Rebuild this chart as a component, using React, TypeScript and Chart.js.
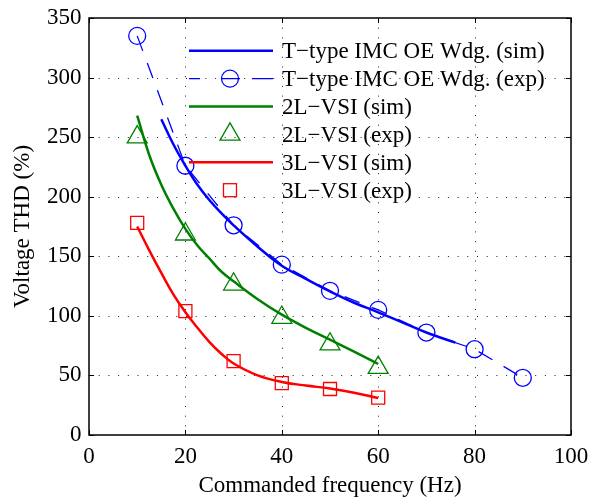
import React, { useEffect, useRef } from 'react';
import { Chart, registerables } from 'chart.js';

Chart.register(...registerables);

const FONT = '"Liberation Serif", "Times New Roman", serif';
const FONT_SIZE = 23;

// Axis ranges / ticks
const xMin = 0, xMax = 100, xStep = 20;
const yMin = 0, yMax = 350, yStep = 50;

// T-type IMC OE Wdg. (sim)
const tTypeSimFreq = [15, 17.5, 20, 22.5, 25, 27.5, 30, 35, 40, 45, 50, 55, 60, 65, 70, 76];
const tTypeSim = [265, 244, 226, 210, 197, 186, 176, 158, 142, 131, 120.5, 111, 103, 94.5, 86, 77.5];

// T-type IMC OE Wdg. (exp)
const tTypeExpFreq = [10, 20, 30, 40, 50, 60, 70, 80, 90];
const tTypeExp = [335, 226, 176, 143, 121, 105, 86, 72, 48];

// 2L-VSI (sim)
const vsi2SimFreq = [10, 12.5, 15, 17.5, 20, 22.5, 25, 27.5, 30, 35, 40, 45, 50, 55, 60];
const vsi2Sim = [268, 235, 210, 190, 173, 159, 148, 137, 129, 114, 101, 90, 80, 70, 59.6];

// 2L-VSI (exp)
const vsi2ExpFreq = [10, 20, 30, 40, 50, 60];
const vsi2Exp = [250, 168.5, 126.5, 98.6, 76.2, 56.6];

// 3L-VSI (sim)
const vsi3SimFreq = [10, 12.5, 15, 17.5, 20, 22.5, 25, 27.5, 30, 35, 40, 45, 50, 55, 60];
const vsi3Sim = [175, 155, 136, 118, 103, 90, 78, 68, 60, 50, 44.5, 41.5, 39, 35.5, 31];

// 3L-VSI (exp)
const vsi3ExpFreq = [10, 20, 30, 40, 50, 60];
const vsi3Exp = [178, 104, 62, 43.5, 38.6, 31.3];

const legendLabels = [
  'T\u2212type IMC OE Wdg. (sim)',
  'T\u2212type IMC OE Wdg. (exp)',
  '2L\u2212VSI (sim)',
  '2L\u2212VSI (exp)',
  '3L\u2212VSI (sim)',
  '3L\u2212VSI (exp)',
];

const BLUE = '#0000ff';
const GREEN = '#008000';
const RED = '#ff0000';

const pts = (xs: number[], ys: number[]) => xs.map((x, i) => ({ x, y: ys[i] }));

const framePlugin = {
  id: 'frame',
  beforeDatasetsDraw(chart: any) {
    const { ctx, chartArea, scales } = chart;
    const { left, right, top, bottom } = chartArea;
    ctx.save();
    ctx.strokeStyle = '#222';
    ctx.lineWidth = 1;
    ctx.setLineDash([1, 8.7]);
    scales.x.ticks.forEach((t: any) => {
      if (t.value <= xMin || t.value >= xMax) return;
      const px = Math.round(scales.x.getPixelForValue(t.value)) + 0.5;
      ctx.beginPath();
      ctx.moveTo(px, top);
      ctx.lineTo(px, bottom);
      ctx.stroke();
    });
    scales.y.ticks.forEach((t: any) => {
      if (t.value <= yMin || t.value >= yMax) return;
      const py = Math.round(scales.y.getPixelForValue(t.value)) + 0.5;
      ctx.beginPath();
      ctx.moveTo(left, py);
      ctx.lineTo(right, py);
      ctx.stroke();
    });
    ctx.restore();
  },
  afterDraw(chart: any) {
    const { ctx, chartArea, scales } = chart;
    const { left, right, top, bottom } = chartArea;
    ctx.save();
    // box
    ctx.strokeStyle = '#000';
    ctx.lineWidth = 1.5;
    ctx.setLineDash([]);
    ctx.strokeRect(left, top, right - left, bottom - top);
    // inward ticks
    ctx.lineWidth = 1;
    const tl = 5;
    scales.x.ticks.forEach((t: any) => {
      const px = Math.round(scales.x.getPixelForValue(t.value)) + 0.5;
      ctx.beginPath();
      ctx.moveTo(px, bottom);
      ctx.lineTo(px, bottom - tl);
      ctx.moveTo(px, top);
      ctx.lineTo(px, top + tl);
      ctx.stroke();
    });
    scales.y.ticks.forEach((t: any) => {
      const py = Math.round(scales.y.getPixelForValue(t.value)) + 0.5;
      ctx.beginPath();
      ctx.moveTo(left, py);
      ctx.lineTo(left + tl, py);
      ctx.moveTo(right, py);
      ctx.lineTo(right - tl, py);
      ctx.stroke();
    });

    // legend
    const sx0 = left + 100;
    const sLen = 84;
    const mx = sx0 + 41;
    const tx = left + 193;
    const rowY0 = top + 32.7;
    const rowH = 27.9;
    ctx.font = `${FONT_SIZE}px ${FONT}`;
    ctx.textBaseline = 'alphabetic';
    ctx.textAlign = 'left';
    legendLabels.forEach((label, i) => {
      const y = rowY0 + i * rowH;
      const color = i < 2 ? BLUE : i < 4 ? GREEN : RED;
      ctx.strokeStyle = color;
      ctx.setLineDash([]);
      if (i % 2 === 0) {
        ctx.lineWidth = 2.5;
        ctx.beginPath();
        ctx.moveTo(sx0, y);
        ctx.lineTo(sx0 + sLen, y);
        ctx.stroke();
      } else if (i === 1) {
        ctx.lineWidth = 1.3;
        ctx.beginPath();
        ctx.moveTo(sx0, y);
        ctx.lineTo(sx0 + 11, y);
        ctx.moveTo(sx0 + 33, y);
        ctx.lineTo(sx0 + 51, y);
        ctx.moveTo(sx0 + 63, y);
        ctx.lineTo(sx0 + sLen, y);
        ctx.stroke();
        ctx.beginPath();
        ctx.arc(mx, y, 8.5, 0, Math.PI * 2);
        ctx.stroke();
      } else if (i === 3) {
        const r = 11.5;
        ctx.lineWidth = 1.3;
        ctx.beginPath();
        ctx.moveTo(mx, y - r);
        ctx.lineTo(mx + r * Math.sin(Math.PI / 3), y + r / 2);
        ctx.lineTo(mx - r * Math.sin(Math.PI / 3), y + r / 2);
        ctx.closePath();
        ctx.stroke();
      } else {
        const s = 6.5;
        ctx.lineWidth = 1.3;
        ctx.strokeRect(mx - s, y - s, 2 * s, 2 * s);
      }
      ctx.fillStyle = '#000';
      ctx.fillText(label, tx, y + 7.6);
    });
    ctx.restore();
  },
};

export default function App() {
  const ref = useRef<HTMLCanvasElement>(null);

  useEffect(() => {
    const canvas = ref.current;
    if (!canvas) return;
    const tickFont = { family: FONT, size: FONT_SIZE };
    const chart = new Chart(canvas, {
      type: 'scatter',
      data: {
        datasets: [
          {
            label: legendLabels[0],
            data: pts(tTypeSimFreq, tTypeSim),
            showLine: true,
            borderColor: BLUE,
            borderWidth: 2.5,
            pointRadius: 0,
            tension: 0.4,
          },
          {
            label: legendLabels[1],
            data: pts(tTypeExpFreq, tTypeExp),
            showLine: true,
            borderColor: BLUE,
            borderWidth: 1.3,
            borderDash: [16, 13],
            pointStyle: 'circle',
            pointRadius: 8.5,
            pointBorderWidth: 1.3,
            pointBorderColor: BLUE,
            pointBackgroundColor: 'rgba(0,0,0,0)',
          },
          {
            label: legendLabels[2],
            data: pts(vsi2SimFreq, vsi2Sim),
            showLine: true,
            borderColor: GREEN,
            borderWidth: 2.5,
            pointRadius: 0,
            tension: 0.4,
          },
          {
            label: legendLabels[3],
            data: pts(vsi2ExpFreq, vsi2Exp),
            showLine: false,
            pointStyle: 'triangle',
            pointRadius: 11.5,
            pointBorderWidth: 1.3,
            pointBorderColor: GREEN,
            pointBackgroundColor: 'rgba(0,0,0,0)',
          },
          {
            label: legendLabels[4],
            data: pts(vsi3SimFreq, vsi3Sim),
            showLine: true,
            borderColor: RED,
            borderWidth: 2.5,
            pointRadius: 0,
            tension: 0.4,
          },
          {
            label: legendLabels[5],
            data: pts(vsi3ExpFreq, vsi3Exp),
            showLine: false,
            pointStyle: 'rect',
            pointRadius: 9.2,
            pointBorderWidth: 1.3,
            pointBorderColor: RED,
            pointBackgroundColor: 'rgba(0,0,0,0)',
          },
        ],
      },
      options: {
        responsive: false,
        animation: false,
        layout: { padding: { top: 18, right: 18, left: 0, bottom: 0 } },
        plugins: {
          legend: { display: false },
          tooltip: { enabled: false },
        },
        scales: {
          x: {
            type: 'linear',
            min: xMin,
            max: xMax,
            afterFit: (s: any) => {
              s.height = 67;
              s.paddingLeft = 0;
              s.paddingRight = 0;
            },
            ticks: { stepSize: xStep, color: '#000', font: tickFont, padding: 8 },
            grid: { display: false, drawTicks: false },
            border: { display: false },
            title: {
              display: true,
              text: 'Commanded frequency (Hz)',
              color: '#000',
              font: tickFont,
              padding: { top: 0, bottom: 2.7 },
            },
          },
          y: {
            type: 'linear',
            min: yMin,
            max: yMax,
            afterFit: (s: any) => {
              s.width = 89;
              s.paddingTop = 0;
              s.paddingBottom = 0;
            },
            ticks: { stepSize: yStep, color: '#000', font: tickFont, padding: 7.5 },
            grid: { display: false, drawTicks: false },
            border: { display: false },
            title: {
              display: true,
              text: 'Voltage THD (%)',
              color: '#000',
              font: tickFont,
              padding: { top: 9.1, bottom: 0 },
            },
          },
        },
      },
      plugins: [framePlugin],
    } as any);
    return () => chart.destroy();
  }, []);

  return (
    <div style={{ position: 'absolute', left: 0, top: 0, width: 589, height: 502, background: '#fff' }}>
      <canvas ref={ref} width={589} height={502} style={{ display: 'block' }} />
    </div>
  );
}
